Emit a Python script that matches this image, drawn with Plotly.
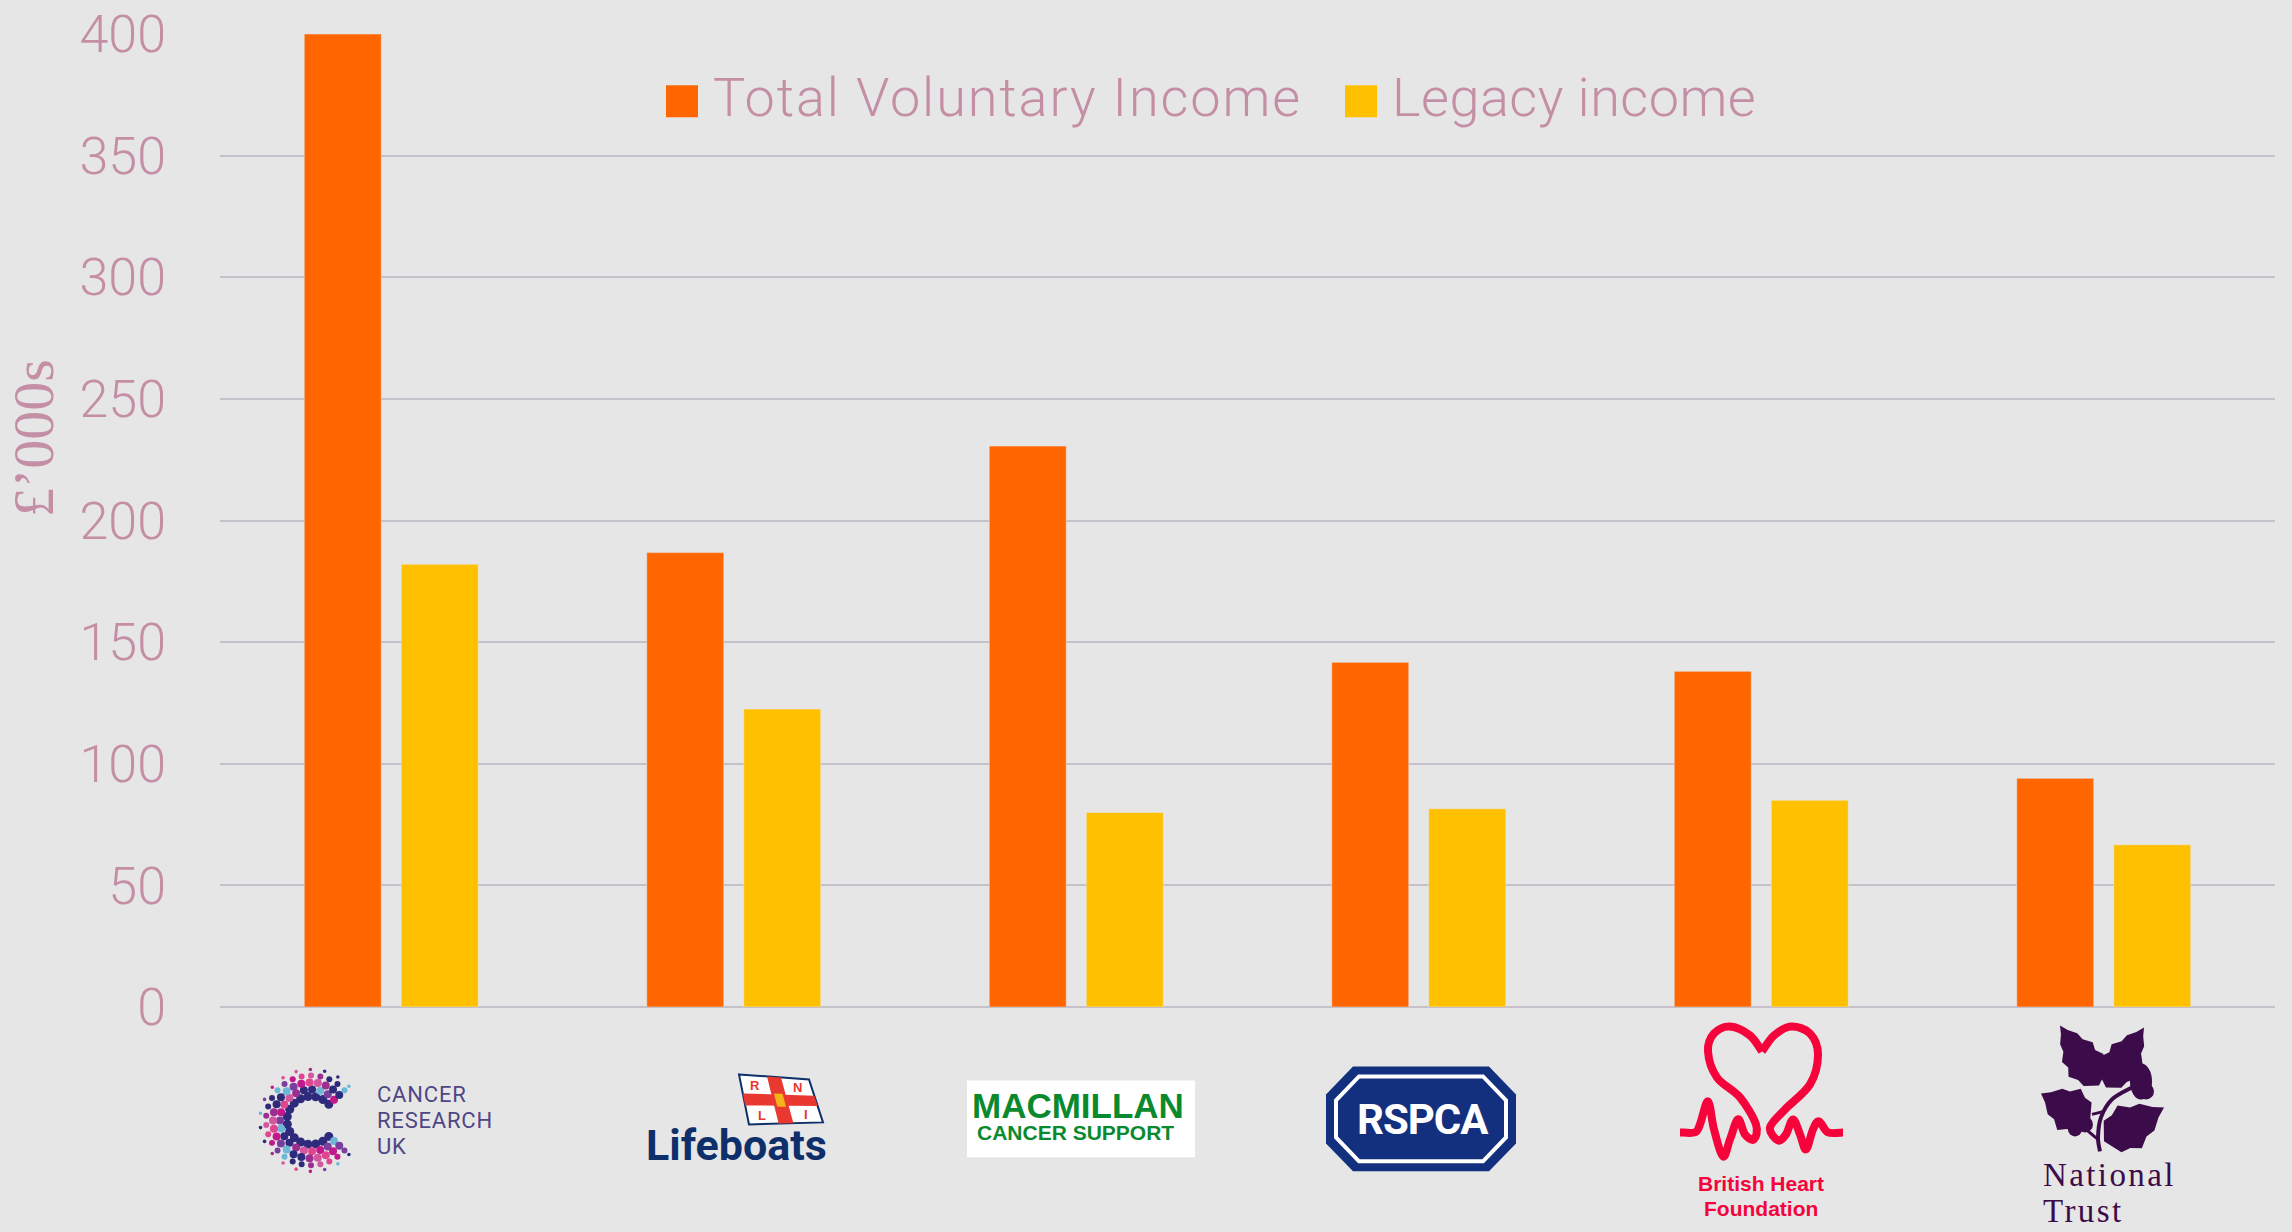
import math
import plotly.graph_objects as go

categories = ["Cancer Research UK", "RNLI Lifeboats", "Macmillan Cancer Support", "RSPCA", "British Heart Foundation", "National Trust"]
total_voluntary = [400, 186.8, 230.6, 141.7, 138, 94]
legacy = [182, 122.5, 80, 81.5, 85, 66.7]
series_names = ["Total Voluntary Income", "Legacy income"]
y_ticks = [0, 50, 100, 150, 200, 250, 300, 350, 400]

W, H = 2292, 1232
L, R, T, B = 220, 2275, 33.6, 1007.5
INK = "#c48fa5"
FONT = "Roboto"
ORANGE, YELLOW = "#FF6600", "#FFC000"


def X(p):
    return (p - L) / (R - L)


def Y(p):
    return 1 - (p - T) / (B - T)


fig = go.Figure()
fig.add_bar(x=categories, y=total_voluntary, name=series_names[0], marker_color=ORANGE, showlegend=False)
fig.add_bar(x=categories, y=legacy, name=series_names[1], marker_color=YELLOW, showlegend=False)

shapes, notes = [], []


def poly(points, fill, line=None, width=0, closed=True):
    d = "M" + " L".join(f"{X(a):.5f},{Y(b):.5f}" for a, b in points) + (" Z" if closed else "")
    shapes.append(dict(type="path", xref="paper", yref="paper", path=d, fillcolor=fill,
                       line=dict(color=line or "rgba(0,0,0,0)", width=width)))


def curve(d_points, color, width):
    p = d_points
    d = f"M{X(p[0][0]):.5f},{Y(p[0][1]):.5f}"
    for i in range(len(p) - 1):
        p0 = p[max(i - 1, 0)]; p1 = p[i]; p2 = p[i + 1]; p3 = p[min(i + 2, len(p) - 1)]
        c1 = (p1[0] + (p2[0] - p0[0]) / 6, p1[1] + (p2[1] - p0[1]) / 6)
        c2 = (p2[0] - (p3[0] - p1[0]) / 6, p2[1] - (p3[1] - p1[1]) / 6)
        d += f" C{X(c1[0]):.5f},{Y(c1[1]):.5f} {X(c2[0]):.5f},{Y(c2[1]):.5f} {X(p2[0]):.5f},{Y(p2[1]):.5f}"
    shapes.append(dict(type="path", xref="paper", yref="paper", path=d,
                       line=dict(color=color, width=width)))


def rect(x0, y0, x1, y1, fill):
    shapes.append(dict(type="rect", xref="paper", yref="paper", x0=X(x0), x1=X(x1), y0=Y(y0), y1=Y(y1),
                       fillcolor=fill, line=dict(width=0)))


def dot(cx, cy, r, fill):
    shapes.append(dict(type="circle", xref="paper", yref="paper", x0=X(cx - r), x1=X(cx + r),
                       y0=Y(cy + r), y1=Y(cy - r), fillcolor=fill, line=dict(width=0)))


def text(s, x, y, size, color, family=FONT, anchor="center", bold=False, angle=0, weight=None, spacing=None):
    body = f"<b>{s}</b>" if bold else s
    if spacing is not None:
        body = f"<span style='letter-spacing:{spacing}px'>{body}</span>"
    fnt = dict(family=family, size=size, color=color)
    if weight:
        fnt["weight"] = weight
    notes.append(dict(text=body, xref="paper", yref="paper", x=X(x), y=Y(y),
                      xanchor=anchor, yanchor="middle", showarrow=False, textangle=angle, font=fnt))


# legend
rect(666, 85, 698, 117, ORANGE)
text(series_names[0], 711, 97, 54, INK, anchor="left", weight=300, spacing=1.9)
rect(1345, 85, 1377, 117, YELLOW)
text(series_names[1], 1390, 97, 54, INK, anchor="left", weight=300, spacing=0.5)

# axis title
text("£’000s", 33, 438, 58, INK, family="Liberation Serif", angle=-90)

# Cancer Research UK
palette = ["#c2188b", "#2e2a7c", "#d4569f", "#7a3f9d", "#2e2a7c", "#e0468f", "#6db7d8", "#9a2f8f"]
k = 0
for radius, dr, count in [(24, 4.5, 16), (31, 4, 19), (38, 4, 23), (45, 3, 24), (51, 1.8, 18)]:
    for i in range(count):
        a = math.radians(42 + (276 * i) / (count - 1))
        colour = palette[k % len(palette)] if radius > 24 else "#2e2a7c"
        dot(311 + radius * math.cos(a), 1121 - radius * math.sin(a), dr, colour)
        k += 3
for s, yy in [("CANCER", 1095), ("RESEARCH", 1121), ("UK", 1147)]:
    text(s, 375, yy, 22, "#4f4684", anchor="left", spacing=0.8)

# Lifeboats
text("Lifeboats", 644, 1146, 43, "#0f2f6b", anchor="left", bold=True)


def flag(u, v):
    tl, tr, br, bl = (739, 1075), (809, 1080), (823, 1123), (749, 1125)
    top = (tl[0] + (tr[0] - tl[0]) * u, tl[1] + (tr[1] - tl[1]) * u)
    bot = (bl[0] + (br[0] - bl[0]) * u, bl[1] + (br[1] - bl[1]) * u)
    return (top[0] + (bot[0] - top[0]) * v, top[1] + (bot[1] - top[1]) * v)


poly([flag(0, 0), flag(1, 0), flag(1, 1), flag(0, 1)], "#ffffff", "#0f2f6b", 2)
poly([flag(.4, 0), flag(.6, 0), flag(.6, 1), flag(.4, 1)], "#e8382f")
poly([flag(0, .38), flag(1, .38), flag(1, .62), flag(0, .62)], "#e8382f")
poly([flag(.44, .36), flag(.56, .36), flag(.56, .64), flag(.44, .64)], "#f5b21a")
for s, u, v in [("R", .2, .2), ("N", .8, .2), ("L", .2, .82), ("I", .8, .82)]:
    px, py = flag(u, v)
    text(s, px, py, 13, "#e8382f", family="Liberation Sans", bold=True)

# Macmillan
rect(967, 1081, 1195, 1158, "#ffffff")
text("MACMILLAN", 1078, 1106, 35, "#0a8a2e", family="Liberation Sans", bold=True)
text("CANCER SUPPORT", 1075, 1133, 21, "#0a8a2e", family="Liberation Sans", bold=True)


# RSPCA
def octagon(x0, y0, x1, y1, cx, cy):
    return [(x0 + cx, y0), (x1 - cx, y0), (x1, y0 + cy), (x1, y1 - cy), (x1 - cx, y1), (x0 + cx, y1), (x0, y1 - cy), (x0, y0 + cy)]


poly(octagon(1326, 1067, 1516, 1172, 27, 28), "#13307f")
poly(octagon(1336, 1077, 1506, 1162, 23, 24), "rgba(0,0,0,0)", "#ffffff", 4)
text("RSPCA", 1423, 1120, 42, "#ffffff", bold=True, spacing=-1)

# British Heart Foundation
RED = "#f5043c"
curve([(1680, 1133), (1695, 1133), (1700, 1125), (1708, 1102), (1714, 1130), (1723, 1157), (1730, 1140), (1738, 1120),
       (1745, 1135), (1754, 1140), (1756, 1125), (1740, 1098), (1717, 1078), (1708, 1052), (1714, 1034), (1730, 1027),
       (1750, 1036), (1762, 1052)], RED, 8)
curve([(1762, 1052), (1774, 1036), (1791, 1027), (1810, 1034), (1818, 1055), (1810, 1085), (1785, 1110), (1770, 1128),
       (1778, 1141), (1786, 1135), (1793, 1120), (1800, 1135), (1806, 1150), (1813, 1130), (1819, 1122), (1828, 1133),
       (1843, 1133)], RED, 8)
text("British Heart", 1761, 1184, 21, RED, family="Liberation Sans", bold=True)
text("Foundation", 1761, 1209, 21, RED, family="Liberation Sans", bold=True)

# National Trust
PURPLE = "#3c0b4a"


def leaf(bx, by, tx, ty, half, lobes=4):
    dx, dy = tx - bx, ty - by
    n = math.hypot(dx, dy)
    nx, ny = -dy / n, dx / n
    left, right = [], []
    for j in range(1, lobes * 2 + 1):
        t = j / (lobes * 2 + 1)
        w = half * math.sin(math.pi * t ** 0.7) * (1 if j % 2 else 0.78)
        left.append((bx + dx * t + nx * w, by + dy * t + ny * w))
        right.append((bx + dx * t - nx * w, by + dy * t - ny * w))
    poly([(bx, by)] + left + [(tx, ty)] + right[::-1], PURPLE)


leaf(2099, 1086, 2060, 1026, 21)
leaf(2106, 1088, 2144, 1028, 21)
leaf(2090, 1122, 2041, 1094, 24, 3)
leaf(2104, 1142, 2164, 1108, 25, 3)
curve([(2100, 1152), (2098, 1138), (2101, 1118), (2112, 1100), (2132, 1088)], PURPLE, 4)
curve([(2098, 1140), (2086, 1130), (2078, 1122)], PURPLE, 3)
curve([(2104, 1112), (2092, 1115)], PURPLE, 3)
shapes.append(dict(type="circle", xref="paper", yref="paper", x0=X(2130), x1=X(2152), y0=Y(1100), y1=Y(1064),
                   fillcolor=PURPLE, line=dict(width=0)))
dot(2146, 1092, 8, PURPLE)
dot(2085, 1125, 8, PURPLE)
dot(2075, 1130, 7, PURPLE)
text("National", 2041, 1175.5, 33, PURPLE, family="Liberation Serif", anchor="left", spacing=2.4)
text("Trust", 2041, 1212, 33, PURPLE, family="Liberation Serif", anchor="left", spacing=2.4)

fig.update_layout(
    width=W, height=H, autosize=False,
    margin=dict(l=L, r=W - R, t=T, b=H - B, pad=0),
    paper_bgcolor="#e6e6e6", plot_bgcolor="#e6e6e6",
    barmode="group", bargap=0.4336, bargroupgap=0.206,
    font=dict(family=FONT, color=INK),
    showlegend=False, shapes=shapes, annotations=notes,
    xaxis=dict(showticklabels=False, showgrid=False, zeroline=False, showline=False, ticks="", fixedrange=True, automargin=False),
    yaxis=dict(range=[0, 400], tickvals=y_ticks, ticktext=[str(v) for v in y_ticks],
               tickfont=dict(family=FONT, size=52, color=INK, weight=300), ticklabelstandoff=53,
               gridcolor="#c6c0ca", gridwidth=1.5, zeroline=True, zerolinecolor="#c6c0ca", zerolinewidth=1.5,
               showline=False, ticks="", fixedrange=True, automargin=False),
)
fig.write_html("out.html", config=dict(displayModeBar=False),
               post_script="document.body.style.margin='0';")
